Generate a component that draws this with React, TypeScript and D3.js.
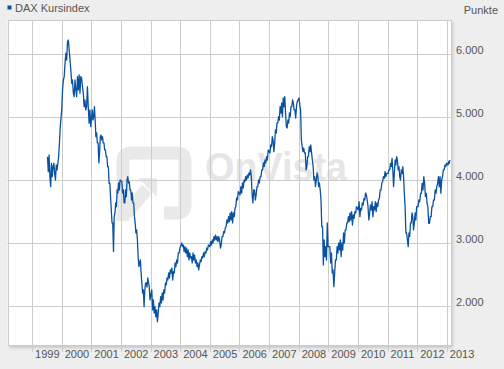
import React from 'react'
import * as d3 from 'd3'

// DAX Kursindex (points per year, evenly spaced between from/to)
const dax1999 = [4366, 4128, 4393, 4049, 3891, 4262, 4049, 4208, 4262, 4103, 3997, 4235, 4156, 4262, 4366, 4579, 4842]
const dax2000 = [5107, 5424, 5582, 5635, 5847, 6006, 5899, 6190, 6216, 6058, 5899, 5741, 5530, 5582, 5371, 5318, 5582, 5424, 5318, 5635, 5424, 5661, 5371, 5635, 5614, 5476, 5371, 5159, 5265, 5107, 5159, 5476, 5159, 4896, 5107, 4842]
const dax2001 = [5107, 4948, 5001, 5159, 4948, 4684, 4742, 4584, 4584, 4267, 4425, 4684, 4710, 4631, 4684, 4584, 4584, 4473, 4473, 4366, 4366, 4208, 4208, 3945, 3950, 3732, 3522, 3316, 3316, 2861, 3416, 3474, 3633, 3575, 3839, 3791, 3950, 3839, 3997]
const dax2002 = [3970, 3791, 3839, 3633, 3633, 3839, 3732, 3997, 4049, 3950, 3970, 3839, 3839, 3680, 3791, 3633, 3633, 3416, 3316, 3157, 3205, 3046, 2781, 2623, 2682, 2729, 2523, 2365, 2206, 2254, 1989, 2254, 2365, 2365, 2301, 2444, 2365, 2306, 2095]
const dax2003 = [2254, 1937, 2095, 1889, 1989, 1830, 1937, 1751, 1889, 2048, 1989, 2147, 2048, 2206, 2095, 2254, 2206, 2365, 2333, 2444, 2412, 2523, 2444, 2571, 2523, 2602, 2412, 2544, 2523, 2682, 2623, 2729, 2682, 2840, 2840, 2919]
const dax2004 = [2999, 2940, 2967, 2861, 2940, 2840, 2919, 2781, 2888, 2729, 2840, 2761, 2781, 2682, 2840, 2729, 2808, 2682, 2729, 2623, 2682, 2571, 2650, 2729, 2702, 2781, 2761, 2840, 2781, 2861, 2840, 2919, 2888, 2967]
const dax2005 = [2940, 3019, 2967, 3046, 2999, 3098, 3046, 3125, 3046, 3098, 3019, 3098, 3046, 2919, 2967, 3098, 3098, 3178, 3157, 3236, 3257, 3363, 3316, 3416, 3337, 3474, 3363, 3495, 3316, 3474, 3416, 3553, 3575, 3712, 3680, 3812]
const dax2006 = [3759, 3891, 3791, 3950, 3870, 3997, 3970, 4049, 3997, 4076, 4029, 4108, 4076, 4156, 4049, 3759, 3633, 3839, 3839, 3680, 3759, 3891, 3891, 3997, 3950, 4049, 4049, 4156, 4156, 4267, 4208, 4314, 4267, 4366, 4314, 4473]
const dax2007 = [4425, 4552, 4526, 4684, 4631, 4446, 4584, 4790, 4742, 4901, 4901, 5001, 4948, 5159, 5059, 5218, 5001, 5297, 5159, 5318, 5059, 4842, 4821, 4948, 4901, 5059, 5001, 5159, 5159, 5265, 5218, 5107, 5107, 4980, 5159, 5238]
const dax2008 = [5297, 5186, 5107, 4631, 4526, 4446, 4504, 4425, 4425, 4156, 4208, 4366, 4366, 4526, 4446, 4552, 4425, 4314, 4208, 3997, 4049, 3891, 3997, 4108, 4049, 3891, 3950, 3839, 3680, 3257, 3257, 2650, 3046, 2781, 2940, 2729, 3316, 2940]
const dax2009 = [2940, 2682, 2840, 2523, 2571, 2306, 2523, 2729, 2729, 2940, 2840, 2999, 2888, 3046, 2781, 2999, 2888, 3157, 2999, 3205, 3205, 3316, 3316, 3416, 3337, 3474, 3363, 3495, 3284, 3442, 3390, 3495, 3474, 3575]
const dax2010 = [3522, 3653, 3416, 3548, 3522, 3633, 3601, 3707, 3680, 3791, 3759, 3680, 3575, 3363, 3474, 3601, 3522, 3653, 3416, 3575, 3522, 3653, 3495, 3633, 3575, 3680, 3707, 3839, 3839, 3950, 3970, 4049, 4024, 4129, 4049, 4103]
const dax2011 = [4103, 4156, 4156, 4262, 4208, 4341, 4156, 3891, 4103, 4314, 4235, 4366, 4314, 4156, 4208, 4049, 3997, 4156, 4103, 4208, 4049, 3786, 3575, 3157, 3157, 3046, 2940, 3157, 3104, 3316, 3316, 3474, 3416, 3205, 3316, 3474, 3363, 3575]
const dax2012 = [3575, 3680, 3653, 3786, 3786, 3945, 3839, 4049, 3945, 3732, 3786, 3627, 3575, 3311, 3311, 3416, 3416, 3575, 3575, 3680, 3680, 3839, 3786, 3891, 3945, 4049, 3891, 4049, 3786, 3997, 4049, 4156, 4156, 4235, 4208, 4262]
const dax2013 = [4235, 4290, 4262, 4314]

const segments = [
  { year: 1999, from: 0.52, to: 0.95, values: dax1999 },
  { year: 2000, from: 0.0, to: 0.98, values: dax2000 },
  { year: 2001, from: 0.03, to: 0.97, values: dax2001 },
  { year: 2002, from: 0.03, to: 0.98, values: dax2002 },
  { year: 2003, from: 0.04, to: 0.99, values: dax2003 },
  { year: 2004, from: 0.05, to: 0.95, values: dax2004 },
  { year: 2005, from: 0.0, to: 0.96, values: dax2005 },
  { year: 2006, from: 0.02, to: 0.97, values: dax2006 },
  { year: 2007, from: 0.03, to: 0.95, values: dax2007 },
  { year: 2008, from: 0.01, to: 0.99, values: dax2008 },
  { year: 2009, from: 0.05, to: 0.95, values: dax2009 },
  { year: 2010, from: 0.01, to: 0.97, values: dax2010 },
  { year: 2011, from: 0.02, to: 0.98, values: dax2011 },
  { year: 2012, from: 0.03, to: 0.99, values: dax2012 },
  { year: 2013, from: 0.04, to: 0.1, values: dax2013 },
]

const years = d3.range(1999, 2014)
const yTicks = [2000, 3000, 4000, 5000, 6000]
const title = 'DAX Kursindex'
const unit = 'Punkte'

const blue = '#0a52a0'
const grid = '#cccccc'
const textCol = '#555555'
const font = 'Arial, "Liberation Sans", sans-serif'

const de = d3.formatLocale({ decimal: ',', thousands: '.', grouping: [3], currency: ['', ' €'] })
const fmt = de.format(',')

export default function App() {
  const W = 504, H = 369
  const left = 7.5, right = 451, top = 20, bottom = 346

  const x = d3.scaleLinear().domain([1998.17, 2013.14]).range([left, right])
  const y = d3.scaleLinear().domain([1366, 6533]).range([bottom, top])

  const points: [number, number][] = []
  segments.forEach(s => {
    const n = s.values.length
    s.values.forEach((v, i) => {
      const t = s.year + s.from + (n > 1 ? (s.to - s.from) * i / (n - 1) : 0)
      points.push([t, v])
    })
  })

  const line = d3.line<[number, number]>()
    .x(d => x(d[0]))
    .y(d => y(d[1]))

  const px = (v: number) => Math.round(v) + 0.5

  return (
    <svg width={W} height={H} style={{ position: 'fixed', left: 0, top: 0, display: 'block' }}>
      <defs>
        <filter id="sh" x="-5%" y="-5%" width="110%" height="110%">
          <feGaussianBlur stdDeviation="1.5" />
        </filter>
      </defs>
      <rect x={0} y={0} width={W} height={H} fill="#eeeeee" />

      {/* title */}
      <rect x={7.5} y={5.5} width={4} height={4} fill={blue} />
      <text x={15} y={12} fontFamily={font} fontSize={11} fill={textCol}>{title}</text>
      <text x={498} y={14} fontFamily={font} fontSize={11} fill={textCol} textAnchor="end">{unit}</text>

      {/* plot frame with shadow */}
      <rect x={left + 2} y={top + 2} width={right - left} height={bottom - top} fill="#c8c8c8" filter="url(#sh)" />
      <rect x={left} y={top} width={right - left} height={bottom - top} fill="#ffffff" />

      {/* watermark */}
      <g fill="none" stroke="#e9e9e9" strokeWidth={13}>
        <path d="M123,221 V161 Q123,153 131,153 H177 Q185,153 185,161 V205 Q185,213 177,213 H164" />
        <path d="M126,214 L147,189" />
      </g>
      <path d="M138,178 L157,178 L157,197 Z" fill="#e9e9e9" />
      <text x={205} y={181} fontFamily={font} fontSize={40} fontWeight="bold" fill="#e6e6e6"
        textLength={142} lengthAdjust="spacingAndGlyphs">OnVista</text>

      {/* grid */}
      {yTicks.map(t => (
        <line key={'h' + t} x1={left} x2={right} y1={px(y(t))} y2={px(y(t))} stroke={grid} />
      ))}
      {years.map(yr => (
        <line key={'v' + yr} x1={px(x(yr))} x2={px(x(yr))} y1={top} y2={bottom + 6} stroke={grid} />
      ))}
      <rect x={px(left)} y={px(top)} width={Math.round(right - left) - 1} height={Math.round(bottom - top) - 1}
        fill="none" stroke={grid} />

      {/* series */}
      <path d={line(points) || ''} fill="none" stroke={blue} strokeWidth={1.3} strokeLinejoin="round" />

      {/* axis labels */}
      {yTicks.map(t => (
        <text key={'yl' + t} x={456} y={y(t)} fontFamily={font} fontSize={11} fill={textCol}>{fmt(t)}</text>
      ))}
      {years.map(yr => (
        <text key={'xl' + yr} x={x(yr) + 3} y={358} fontFamily={font} fontSize={11} fill={textCol}>{yr}</text>
      ))}
    </svg>
  )
}
